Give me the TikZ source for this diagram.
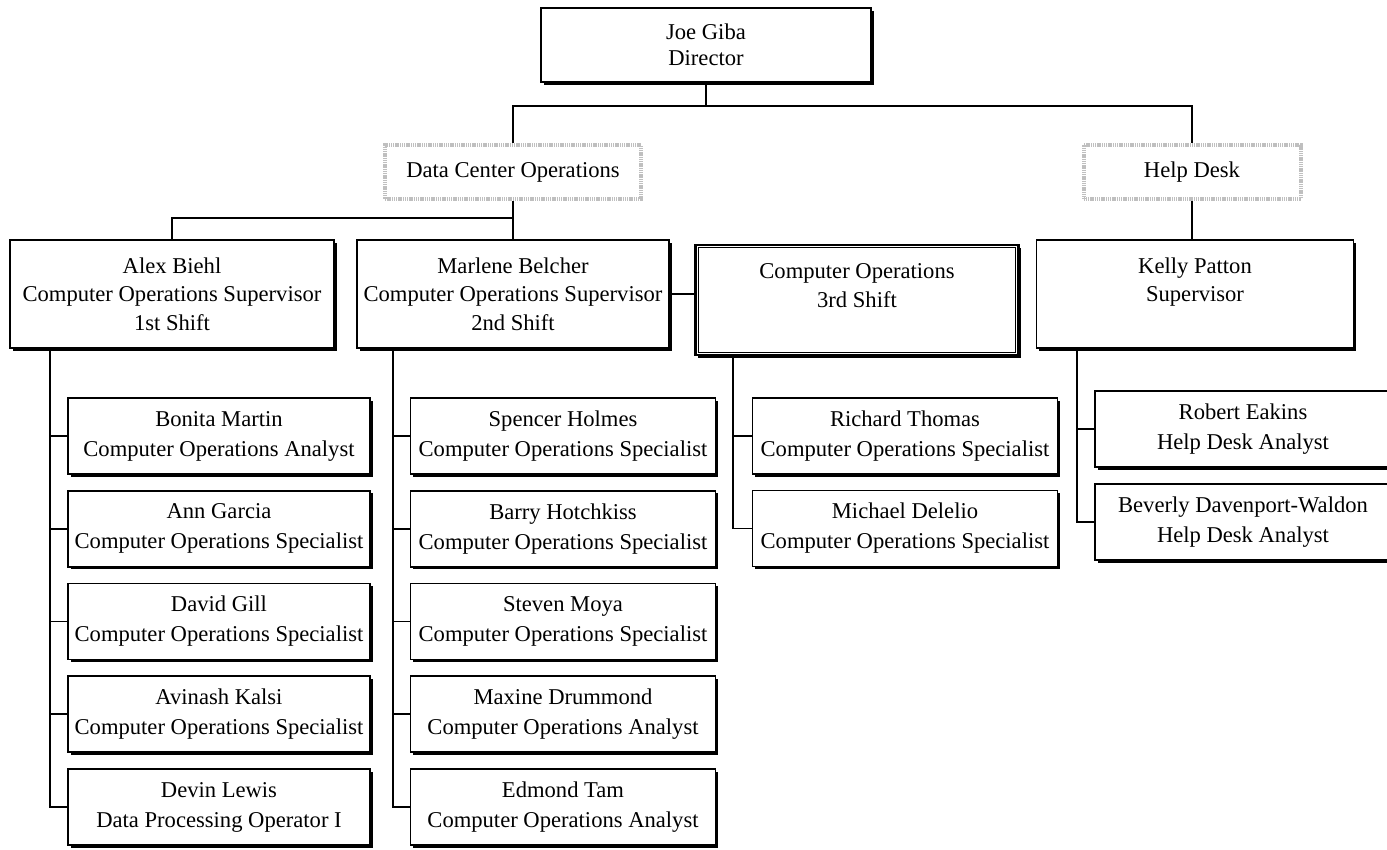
\documentclass[tikz,border=0pt]{standalone}
\usepackage{fontspec}
\setmainfont{Liberation Serif}
\usetikzlibrary{positioning,shadows}

\begin{document}
\begin{tikzpicture}[x=0.5pt,y=-0.5pt,font=\fontsize{11.3}{14.3}\selectfont,
  box/.style={draw,fill=white,line width=0.8pt,align=center,inner sep=2pt,
    drop shadow={shadow xshift=1.3pt,shadow yshift=-1.3pt,opacity=1,fill=black}},
  unit/.style={draw=gray!50,line width=2pt,dash pattern=on 0.7pt off 0.4pt,fill=white,align=center,minimum height=27pt},
  lead/.style={box,minimum height=54pt},
  staff/.style={box,minimum height=38pt,font=\fontsize{11.3}{15}\selectfont}]
  \useasboundingbox (0,0) rectangle (1387,850);
  \node[box,minimum width=165pt,minimum height=37pt,font=\fontsize{11.3}{12.8}\selectfont] (joe) at (706,45) {Joe Giba\\Director};
  \node[unit,minimum width=128pt] (dco) at (513,172) {Data Center Operations};
  \node[unit,minimum width=108.5pt] (help) at (1192,172) {Help Desk};
  \node[lead,minimum width=162pt] (alex) at (172,294) {Alex Biehl\\Computer Operations Supervisor\\1st Shift};
  \node[lead,minimum width=156pt] (marlene) at (513,294) {Marlene Belcher\\Computer Operations Supervisor\\2nd Shift};
  \node[lead,minimum width=161.5pt,minimum height=55pt,line width=1.4pt] (shift3) at (857,300) {Computer Operations\\3rd Shift\\~};
  \draw[line width=0.5pt] ([shift={(2.2pt,-2.2pt)}]shift3.north west) rectangle ([shift={(-2.2pt,2.2pt)}]shift3.south east);
  \node[lead,minimum width=158.5pt] (kelly) at (1195,294) {Kelly Patton\\Supervisor\\~};
  \coordinate (j1) at (706,106);
  \coordinate (d1) at (513,218);
  \draw[line width=0.8pt] (joe) -- (j1);
  \draw[line width=0.8pt] (dco.north) |- (j1) -| (help.north);
  \draw[line width=0.8pt] (dco.south) -- (marlene.north);
  \draw[line width=0.8pt] (alex.north) |- (d1);
  \draw[line width=0.8pt] (help.south) -- (help.south |- kelly.north);
  \draw[line width=0.8pt] (marlene.east) -- (shift3.west |- marlene.east);
  \foreach \n/\t [count=\i] in {Bonita Martin/Computer Operations Analyst,
    Ann Garcia/Computer Operations Specialist,David Gill/Computer Operations Specialist,
    Avinash Kalsi/Computer Operations Specialist,Devin Lewis/Data Processing Operator I}{
    \node[staff,minimum width=151pt] (a\i) at (219,{436+92.75*(\i-1)}) {\n\\\t};
    \draw[line width=0.8pt] (alex.south west) ++(41,0) |- (a\i.west);
  }
  \foreach \n/\t [count=\i] in {Spencer Holmes/Computer Operations Specialist,
    Barry Hotchkiss/Computer Operations Specialist,Steven Moya/Computer Operations Specialist,
    Maxine Drummond/Computer Operations Analyst,Edmond Tam/Computer Operations Analyst}{
    \node[staff,minimum width=152.5pt] (m\i) at (563,{436+92.75*(\i-1)}) {\n\\\t};
    \draw[line width=0.8pt] (marlene.south west) ++(37,0) |- (m\i.west);
  }
  \foreach \n/\t [count=\i] in {Richard Thomas/Computer Operations Specialist,
    Michael Delelio/Computer Operations Specialist}{
    \node[staff,minimum width=152.5pt] (c\i) at (905,{436+92.5*(\i-1)}) {\n\\\t};
    \draw[line width=0.8pt] (shift3.south west) ++(39,0) |- (c\i.west);
  }
  \foreach \n/\t [count=\i] in {Robert Eakins/Help Desk Analyst,
    Beverly Davenport-Waldon/Help Desk Analyst}{
    \node[staff,minimum width=148pt] (h\i) at (1243,{429+93*(\i-1)}) {\n\\\t};
    \draw[line width=0.8pt] (kelly.south west) ++(41,0) |- (h\i.west);
  }
\end{tikzpicture}
\end{document}
